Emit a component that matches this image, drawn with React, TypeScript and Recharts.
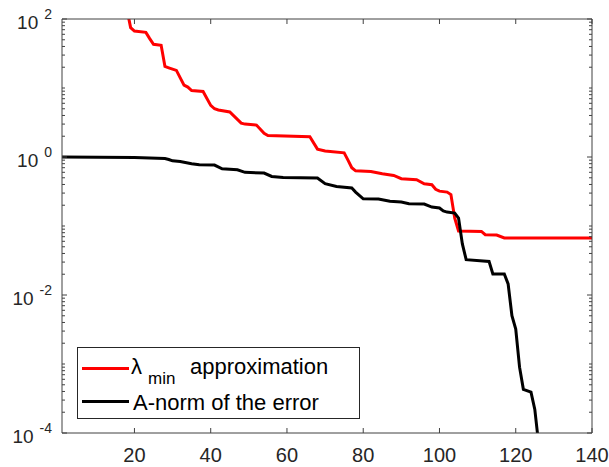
import React from 'react';
import { LineChart, Line, XAxis, YAxis, Legend } from 'recharts';

// Smallest-eigenvalue approximation error per iteration
const lambdaIter = [18, 19, 20, 23, 24, 25, 27, 28, 29, 31, 33, 34, 35, 38, 40, 41, 42, 45, 48, 49, 52, 54, 55, 66, 68, 70, 75, 76, 77, 78, 82, 85, 88, 90, 94, 96, 98, 99, 100, 102, 103, 104, 105, 111, 112, 115, 117, 140];
const lambdaValue = [140, 75, 67, 64, 52, 43, 41.5, 20.5, 19.6, 18, 11, 10.3, 9.2, 8.9, 5.6, 5.0, 4.8, 4.5, 3.1, 3.0, 2.9, 2.2, 2.05, 1.97, 1.3, 1.22, 1.15, 0.9, 0.7, 0.63, 0.615, 0.57, 0.54, 0.485, 0.468, 0.41, 0.396, 0.34, 0.32, 0.31, 0.285, 0.13, 0.0845, 0.0835, 0.0748, 0.074, 0.067, 0.067];

// A-norm of the error per iteration
const errorIter = [1, 20, 28, 29, 30, 32, 35, 37, 41, 43, 47, 49, 54, 56, 59, 68, 70, 73, 77, 78, 80, 84, 87, 90, 92, 96, 98, 100, 101, 102, 104, 105, 106, 107, 113, 114, 117, 118, 119, 120, 121, 122, 124, 125, 126];
const errorValue = [1.0, 0.985, 0.95, 0.92, 0.88, 0.86, 0.8, 0.77, 0.764, 0.675, 0.653, 0.6, 0.585, 0.522, 0.505, 0.495, 0.41, 0.374, 0.355, 0.31, 0.248, 0.246, 0.228, 0.222, 0.21, 0.208, 0.188, 0.182, 0.165, 0.159, 0.154, 0.13, 0.055, 0.0325, 0.0307, 0.0202, 0.0202, 0.0145, 0.005, 0.0032, 0.0009, 0.00043, 0.00039, 0.00022, 0.00007];

// Axis ticks
const xTicks = [20, 40, 60, 80, 100, 120, 140];
const xDomain = [1, 140];
const yDomain = [1e-4, 1e2];
const labeledDecades = [1e-4, 1e-2, 1, 1e2];
const decadeExponents = ['-4', '-2', '0', '2'];
const allDecades = [1e-4, 1e-3, 1e-2, 1e-1, 1, 10];
const minorSteps = [2, 3, 4, 5, 6, 7, 8, 9];

const yTicks = allDecades
  .flatMap((d) => [d, ...minorSteps.map((m) => m * d)])
  .concat([1e2]);

const lambdaData = lambdaIter.map((it, i) => ({ it, v: lambdaValue[i] }));
const errorData = errorIter.map((it, i) => ({ it, v: errorValue[i] }));

const AXIS = '#404040';
const TEXT = '#262626';
const FONT = '"Liberation Sans", Arial, Helvetica, sans-serif';
const MAJOR = 5;
const MINOR = 3;
const LINE_W = 3;

const decadeIndex = (v: number) =>
  labeledDecades.findIndex((d) => Math.abs(Math.log10(d) - Math.log10(v)) < 1e-6);

const LeftTick = (props: any) => {
  const { x, y, payload } = props;
  const idx = decadeIndex(payload.value);
  const major = idx >= 0;
  return (
    <g>
      <line x1={x} x2={x + (major ? MAJOR : MINOR)} y1={y} y2={y} stroke={AXIS} strokeWidth={1} />
      {major && (
        <text x={x - 10} y={y + 10} textAnchor="end" fill={TEXT} fontFamily={FONT} fontSize={19}>
          <tspan>10</tspan>
          <tspan dx={6} dy={-10} fontSize={14}>{decadeExponents[idx]}</tspan>
        </text>
      )}
    </g>
  );
};

const RightTick = (props: any) => {
  const { x, y, payload } = props;
  const major = decadeIndex(payload.value) >= 0;
  return <line x1={x} x2={x - (major ? MAJOR : MINOR)} y1={y} y2={y} stroke={AXIS} strokeWidth={1} />;
};

const BottomTick = (props: any) => {
  const { x, y, payload } = props;
  return (
    <g>
      <line x1={x} x2={x} y1={y} y2={y - MAJOR} stroke={AXIS} strokeWidth={1} />
      <text x={x} y={y + 29} textAnchor="middle" fill={TEXT} fontFamily={FONT} fontSize={20}>
        {payload.value}
      </text>
    </g>
  );
};

const TopTick = (props: any) => {
  const { x, y } = props;
  return <line x1={x} x2={x} y1={y} y2={y + MAJOR} stroke={AXIS} strokeWidth={1} />;
};

const LegendBox = () => (
  <svg width={284} height={73} style={{ display: 'block' }}>
    <rect x={0.5} y={0.5} width={282} height={71} fill="#ffffff" stroke={TEXT} strokeWidth={1} />
    <line x1={5} x2={52} y1={21.5} y2={21.5} stroke="#ff0000" strokeWidth={LINE_W} />
    <line x1={5} x2={52} y1={54.5} y2={54.5} stroke="#000000" strokeWidth={LINE_W} />
    <text fill="#000" fontFamily={FONT} fontSize={22}>
      <tspan x={54} y={26.5}>λ</tspan>
      <tspan x={71} y={36.5} fontSize={17}>min</tspan>
      <tspan x={113} y={26.5}>approximation</tspan>
    </text>
    <text x={56} y={63} fill="#000" fontFamily={FONT} fontSize={22}>
      A-norm of the error
    </text>
  </svg>
);

export default function App() {
  return (
    <div style={{ position: 'absolute', left: 0, top: 0, width: 609, height: 467, background: '#fff' }}>
      <LineChart
        width={609}
        height={467}
        margin={{ top: 9, right: 7, bottom: 4, left: 8 }}
      >
        <XAxis
          xAxisId="bottom"
          dataKey="it"
          type="number"
          domain={xDomain}
          allowDataOverflow
          ticks={xTicks}
          interval={0}
          height={30}
          tickSize={0}
          tickMargin={0}
          tickLine={false}
          axisLine={{ stroke: AXIS }}
          tick={<BottomTick />}
        />
        <XAxis
          xAxisId="top"
          orientation="top"
          dataKey="it"
          type="number"
          domain={xDomain}
          allowDataOverflow
          ticks={xTicks}
          interval={0}
          height={10}
          tickSize={0}
          tickMargin={0}
          tickLine={false}
          axisLine={{ stroke: AXIS }}
          tick={<TopTick />}
        />
        <YAxis
          yAxisId="left"
          type="number"
          scale="log"
          domain={yDomain}
          allowDataOverflow
          ticks={yTicks}
          interval={0}
          width={54}
          tickSize={0}
          tickMargin={0}
          tickLine={false}
          axisLine={{ stroke: AXIS }}
          tick={<LeftTick />}
        />
        <YAxis
          yAxisId="right"
          orientation="right"
          type="number"
          scale="log"
          domain={yDomain}
          allowDataOverflow
          ticks={yTicks}
          interval={0}
          width={10}
          tickSize={0}
          tickMargin={0}
          tickLine={false}
          axisLine={{ stroke: AXIS }}
          tick={<RightTick />}
        />
        <Line
          xAxisId="bottom"
          yAxisId="left"
          data={lambdaData}
          dataKey="v"
          name="λmin approximation"
          type="linear"
          stroke="#ff0000"
          strokeWidth={LINE_W}
          dot={false}
          isAnimationActive={false}
        />
        <Line
          xAxisId="bottom"
          yAxisId="left"
          data={errorData}
          dataKey="v"
          name="A-norm of the error"
          type="linear"
          stroke="#000000"
          strokeWidth={LINE_W}
          dot={false}
          isAnimationActive={false}
        />
        <Legend
          layout="horizontal"
          verticalAlign="middle"
          align="center"
          wrapperStyle={{ left: 77, top: 347, width: 284, height: 73 }}
          content={() => <LegendBox />}
        />
      </LineChart>
    </div>
  );
}
